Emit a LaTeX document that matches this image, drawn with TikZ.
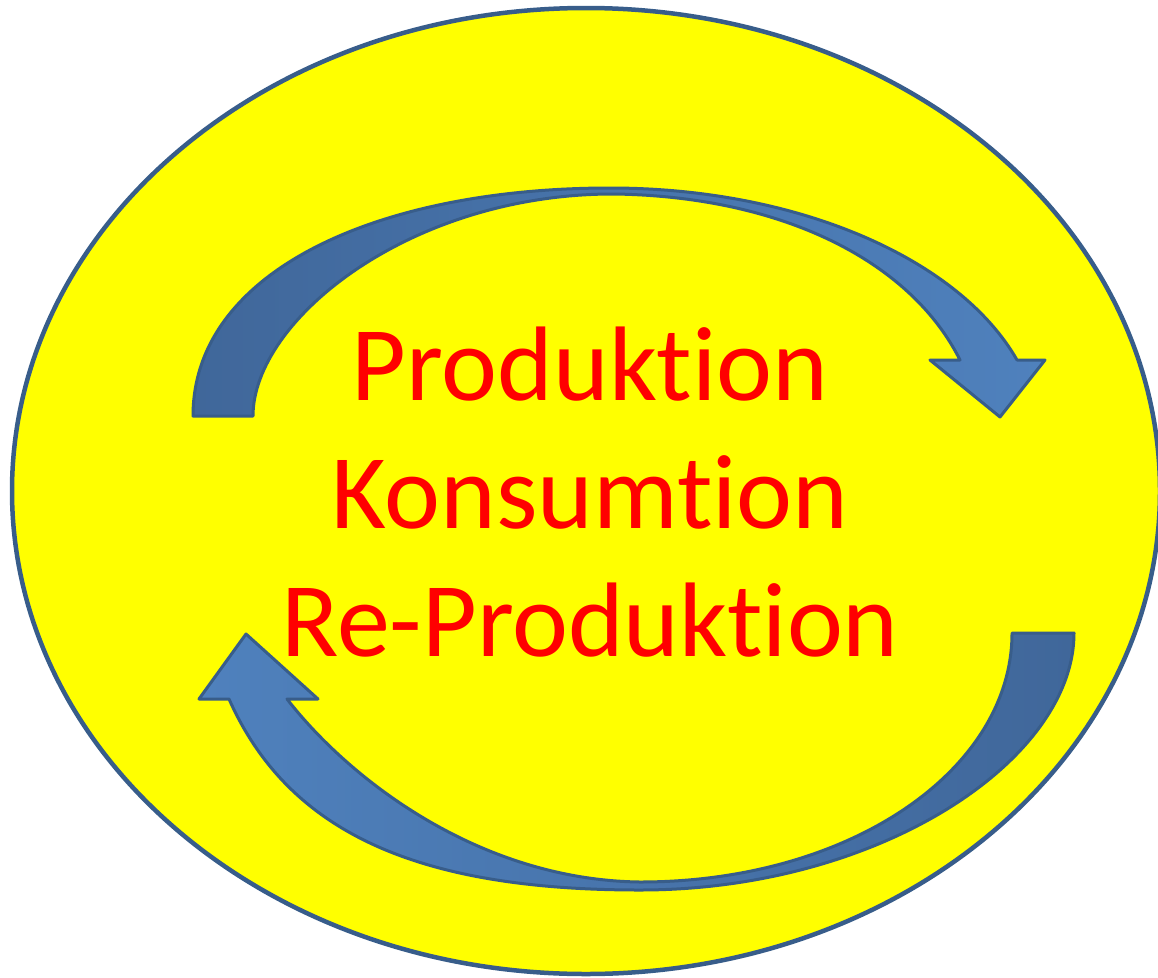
\documentclass[tikz,border=0pt]{standalone}
\usepackage{fontspec}
\setmainfont{Carlito}[Ligatures=NoCommon]
\usetikzlibrary{positioning}

\definecolor{ringblue}{HTML}{385D8A}
\definecolor{ringfill}{HTML}{FFFF00}
\definecolor{arrowlight}{HTML}{4F81BD}
\definecolor{arrowdark}{HTML}{40679A}

\begin{document}
\begin{tikzpicture}[x=1pt, y=-1pt,
    cyclearrow/.style={draw=ringblue, line width=3pt, line join=round},
    stagetext/.style={text=red, inner sep=0pt, anchor=base, font=\fontsize{106}{127}\selectfont}]

\useasboundingbox (0,0) rectangle (1158,977);

\draw[draw=ringblue, line width=4.5pt, fill=ringfill] (586,491) ellipse [x radius=574pt, y radius=483pt];

\draw[cyclearrow, left color=arrowdark, right color=arrowlight]
    (193,416) .. controls (193,270) and (380,188) .. (610,188)
    .. controls (800,188) and (960,260) .. (1017,360)
    -- (1045,360) -- (1000,417) -- (930,360) -- (960,360)
    .. controls (910,260) and (780,196) .. (613,194)
    .. controls (410,194) and (253,320) .. (253,416) -- cycle;

\draw[cyclearrow, left color=arrowlight, right color=arrowdark]
    (1074,633) .. controls (1074,760) and (880,890) .. (640,890)
    .. controls (420,890) and (289,834) .. (229,699)
    -- (199,699) -- (246,634) -- (318,699) -- (287,699)
    .. controls (350,780) and (480,880) .. (640,882)
    .. controls (850,882) and (1012,770) .. (1012,633) -- cycle;

\node[stagetext] (prod) at (590,400) {Produktion};
\node[stagetext] (kons) at (590,528) {Konsumtion};
\node[stagetext] (repro) at (590,656) {Re-Produktion};

\end{tikzpicture}
\end{document}
